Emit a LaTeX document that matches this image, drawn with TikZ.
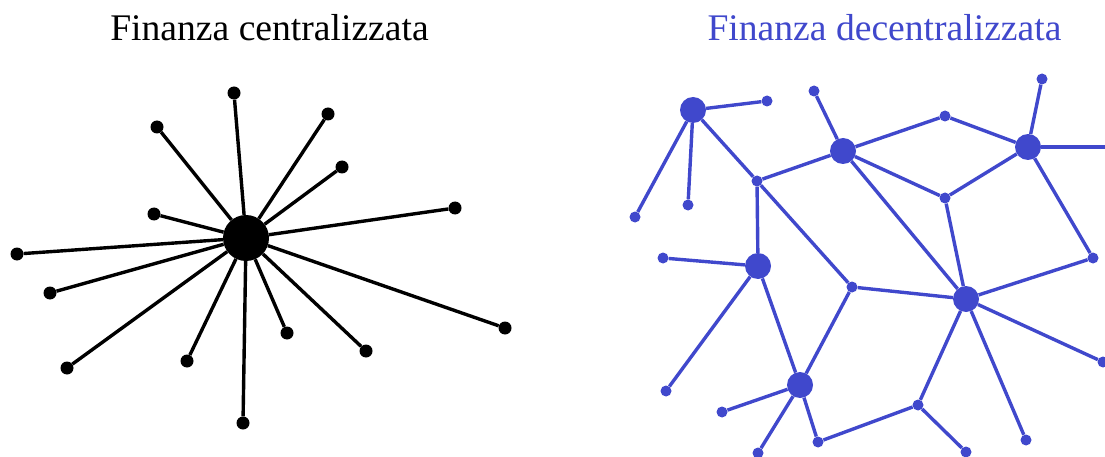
\documentclass[tikz,border=0pt]{standalone}
\usepackage{fontspec}
\setmainfont{Liberation Serif}
\definecolor{netblue}{RGB}{64,72,204}
\tikzset{
  hub/.style={circle,fill=black,inner sep=0pt,minimum size=46pt},
  leaf/.style={circle,fill=black,inner sep=0pt,minimum size=13pt},
  bbig/.style={circle,fill=netblue,inner sep=0pt,minimum size=26pt},
  bsmall/.style={circle,fill=netblue,inner sep=0pt,minimum size=11pt},
  spoke/.style={draw=black,line width=3.4pt},
  link/.style={draw=netblue,line width=3.4pt},
  title/.style={anchor=base,inner sep=0pt,font=\fontsize{37.6}{44}\selectfont}
}
\begin{document}
\begin{tikzpicture}[x=1pt,y=-1pt]
\useasboundingbox (0,0) rectangle (1105,457);
\clip (0,0) rectangle (1105,457);
% titles
\node[title,text=black] (t1) at (269.5,41) {Finanza centralizzata};
\node[title,text=netblue] (t2) at (884.5,41) {Finanza decentralizzata};
% centralized
\node[hub] (c) at (246,238) {};
\foreach \n/\x/\y in {l1/234/93, l2/157/127, l3/328/114, l4/342/167, l5/154/214, l6/455/208, l7/17/254, l8/50/293, l9/67/368, l10/187/361, l11/243/423, l12/287/333, l13/366/351, l14/505/328}{
  \node[leaf] (\n) at (\x,\y) {};
  \draw[spoke] (c) -- (\n);
}
% decentralized
\node[bbig] (A) at (693,110) {};
\node[bbig] (C) at (843,151) {};
\node[bbig] (F) at (1028,147) {};
\node[bbig] (G) at (758,266) {};
\node[bbig] (I) at (966,299) {};
\node[bbig] (K) at (800,385) {};
\node[bsmall] (a1) at (767,101) {};
\node[bsmall] (a2) at (688,205) {};
\node[bsmall] (a3) at (635,217) {};
\node[bsmall] (B) at (757,181) {};
\node[bsmall] (c1) at (814,91) {};
\node[bsmall] (D) at (945,116) {};
\node[bsmall] (E) at (945,198) {};
\node[bsmall] (f1) at (1042,79) {};
\coordinate (fr) at (1110,147);
\node[bsmall] (J) at (1093,258) {};
\node[bsmall] (g1) at (663,258) {};
\node[bsmall] (g2) at (666,391) {};
\node[bsmall] (H) at (852,287) {};
\node[bsmall] (i1) at (1026,440) {};
\node[bsmall] (i2) at (1103,362) {};
\node[bsmall] (k1) at (722,412) {};
\node[bsmall] (k2) at (758,453) {};
\node[bsmall] (L) at (818,442) {};
\node[bsmall] (M) at (918,405) {};
\node[bsmall] (m1) at (966,452) {};
\foreach \u/\v in {A/a1, A/a2, A/a3, A/B, B/C, B/G, B/H, C/c1, C/D, C/E, C/I, D/F, E/F, E/I, F/f1, F/fr, F/J, J/I, G/g1, G/g2, G/K, H/I, H/K, I/i1, I/M, I/i2, K/k1, K/k2, K/L, L/M, M/m1}{
  \draw[link] (\u) -- (\v);
}
\end{tikzpicture}
\end{document}
